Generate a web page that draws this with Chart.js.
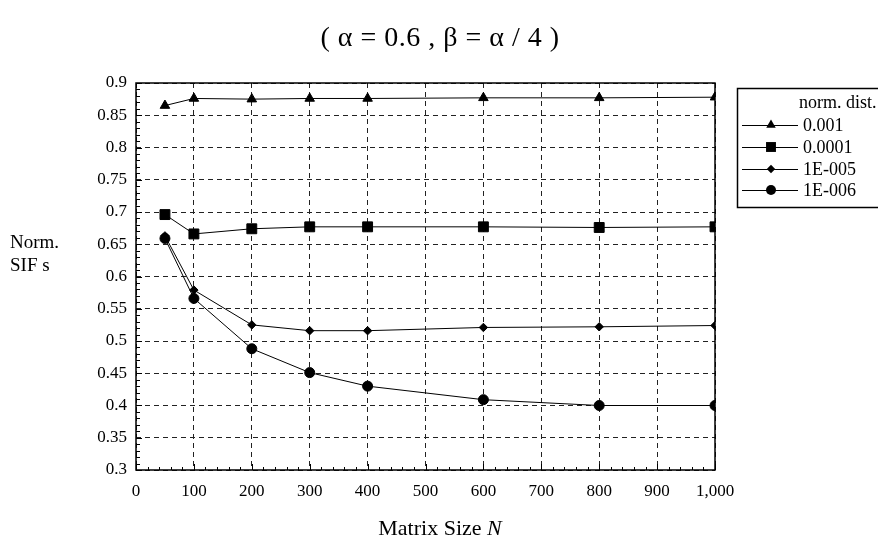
<!DOCTYPE html>
<html>
<head>
<meta charset="utf-8">
<script src="https://cdn.jsdelivr.net/npm/chart.js@4"></script>
<style>
  html, body { margin: 0; padding: 0; background: #fff; }
  #wrap { width: 878px; height: 554px; }
</style>
</head>
<body>
<div id="wrap"><canvas id="sif" width="878" height="554"></canvas></div>
<script>
// matrix sizes N
const sizes = [50, 100, 200, 300, 400, 600, 800, 1000];
const seriesNames = ['0.001', '0.0001', '1E-005', '1E-006'];
const dist1 = [0.865, 0.876, 0.875, 0.876, 0.876, 0.877, 0.877, 0.878];
const dist2 = [0.696, 0.666, 0.674, 0.677, 0.677, 0.677, 0.676, 0.677];
const dist3 = [0.663, 0.579, 0.525, 0.516, 0.516, 0.521, 0.522, 0.524];
const dist4 = [0.659, 0.566, 0.488, 0.451, 0.430, 0.409, 0.400, 0.400];
const xTicks = [0, 100, 200, 300, 400, 500, 600, 700, 800, 900, 1000];
const yTicks = [0.3, 0.35, 0.4, 0.45, 0.5, 0.55, 0.6, 0.65, 0.7, 0.75, 0.8, 0.85, 0.9];

const serif = "'Liberation Serif', 'DejaVu Serif', serif";
const markers = [
    { style: 'triangle', r: 5.5 },
    { style: 'rect', r: 7 },
    { style: 'rectRot', r: 4.2 },
    { style: 'circle', r: 5 }
];

function pts(vals) {
    return sizes.map((n, i) => ({ x: n, y: vals[i] }));
}

const datasets = [dist1, dist2, dist3, dist4].map((vals, i) => ({
    label: seriesNames[i],
    data: pts(vals),
    borderColor: '#000',
    borderWidth: 1,
    backgroundColor: '#000',
    pointStyle: markers[i].style,
    pointRadius: markers[i].r,
    pointBorderWidth: 1,
    pointBorderColor: '#000',
    pointBackgroundColor: '#000',
    tension: 0
}));

// draw a small marker for the legend
function marker(ctx, style, r, x, y) {
    ctx.beginPath();
    if (style === 'triangle') {
        for (let k = 0; k < 3; k++) {
            const a = k * 2 * Math.PI / 3;
            const px = x + Math.sin(a) * r, py = y - Math.cos(a) * r;
            if (k === 0) ctx.moveTo(px, py); else ctx.lineTo(px, py);
        }
        ctx.closePath();
    } else if (style === 'rect') {
        const s = r * Math.SQRT1_2;
        ctx.rect(x - s, y - s, 2 * s, 2 * s);
    } else if (style === 'rectRot') {
        ctx.moveTo(x, y - r); ctx.lineTo(x + r, y); ctx.lineTo(x, y + r); ctx.lineTo(x - r, y);
        ctx.closePath();
    } else {
        ctx.arc(x, y, r, 0, Math.PI * 2);
    }
    ctx.fill();
}

const extras = {
    id: 'extras',
    beforeDraw(chart) {
        const ctx = chart.ctx;
        ctx.save();
        ctx.fillStyle = '#fff';
        ctx.fillRect(0, 0, chart.width, chart.height);
        ctx.restore();
    },
    afterDraw(chart) {
        const ctx = chart.ctx;
        const a = chart.chartArea;
        const xs = chart.scales.x, ys = chart.scales.y;
        ctx.save();

        // plot frame
        ctx.strokeStyle = '#000';
        ctx.lineWidth = 1.5;
        ctx.setLineDash([]);
        ctx.strokeRect(a.left, a.top, a.right - a.left, a.bottom - a.top);

        // minor + major ticks pointing inward
        ctx.lineWidth = 1;
        ctx.beginPath();
        for (let v = 0; v <= 1000; v += 20) {
            const px = Math.round(xs.getPixelForValue(v)) + 0.5;
            const len = v % 100 === 0 ? 6 : 3;
            ctx.moveTo(px, a.bottom); ctx.lineTo(px, a.bottom - len);
        }
        for (let k = 0; k <= 60; k++) {
            const py = Math.round(ys.getPixelForValue(0.3 + k * 0.01)) + 0.5;
            const len = k % 5 === 0 ? 6 : 4;
            ctx.moveTo(a.left, py); ctx.lineTo(a.left + len, py);
        }
        ctx.stroke();

        // title
        ctx.fillStyle = '#000';
        ctx.font = '28px ' + serif;
        ctx.textAlign = 'center';
        ctx.textBaseline = 'alphabetic';
        ctx.letterSpacing = '0.5px';
        ctx.fillText('( \u03b1 = 0.6 , \u03b2 = \u03b1 / 4 )', 440, 46);
        ctx.letterSpacing = '0px';

        // y axis title
        ctx.font = '19px ' + serif;
        ctx.textAlign = 'left';
        ctx.fillText('Norm.', 10, 248);
        ctx.fillText('SIF s', 10, 271);

        // x axis title with italic N
        const t1 = 'Matrix Size ';
        ctx.font = '22px ' + serif;
        const w1 = ctx.measureText(t1).width;
        ctx.font = 'italic 22px ' + serif;
        const w2 = ctx.measureText('N').width;
        const sx = 440 - (w1 + w2) / 2;
        ctx.font = '22px ' + serif;
        ctx.fillText(t1, sx, 535);
        ctx.font = 'italic 22px ' + serif;
        ctx.fillText('N', sx + w1, 535);

        // legend box
        ctx.lineWidth = 1.5;
        ctx.strokeRect(737.5, 88.5, 150, 119);
        ctx.font = '18px ' + serif;
        ctx.fillText('norm. dist.', 799, 108);
        const rowsY = [125, 147, 169, 190];
        chart.data.datasets.forEach((ds, i) => {
            const y = rowsY[i];
            ctx.lineWidth = 1;
            ctx.beginPath();
            ctx.moveTo(742, y + 0.5); ctx.lineTo(798, y + 0.5);
            ctx.stroke();
            ctx.fillStyle = '#000';
            marker(ctx, markers[i].style, markers[i].r, 771, y);
            ctx.textBaseline = 'middle';
            ctx.fillText(ds.label, 803, y + 1);
            ctx.textBaseline = 'alphabetic';
        });

        ctx.restore();
    }
};

const chart = new Chart(document.getElementById('sif').getContext('2d'), {
    type: 'line',
    data: { datasets: datasets },
    options: {
        responsive: false,
        devicePixelRatio: 1,
        animation: false,
        layout: { padding: { top: 83, right: 163, bottom: 54, left: 0 } },
        plugins: {
            legend: { display: false },
            tooltip: { enabled: false }
        },
        scales: {
            x: {
                type: 'linear',
                min: 0,
                max: 1000,
                afterBuildTicks: (s) => { s.ticks = xTicks.map(v => ({ value: v })); },
                afterFit: (s) => { s.height = 30; },
                grid: { color: '#222', lineWidth: 1, drawTicks: false },
                border: { display: false, dash: [5, 4] },
                ticks: {
                    color: '#000',
                    font: { family: serif, size: 17 },
                    padding: 11,
                    maxRotation: 0,
                    autoSkip: false
                }
            },
            y: {
                type: 'linear',
                min: 0.3,
                max: 0.9,
                afterBuildTicks: (s) => { s.ticks = yTicks.map(v => ({ value: v })); },
                afterFit: (s) => { s.width = 136; },
                grid: { color: '#222', lineWidth: 1, drawTicks: false },
                border: { display: false, dash: [5, 4] },
                ticks: {
                    color: '#000',
                    font: { family: serif, size: 17 },
                    padding: 9,
                    callback: (v) => String(+v.toFixed(2))
                }
            }
        }
    },
    plugins: [extras]
});
</script>
</body>
</html>
